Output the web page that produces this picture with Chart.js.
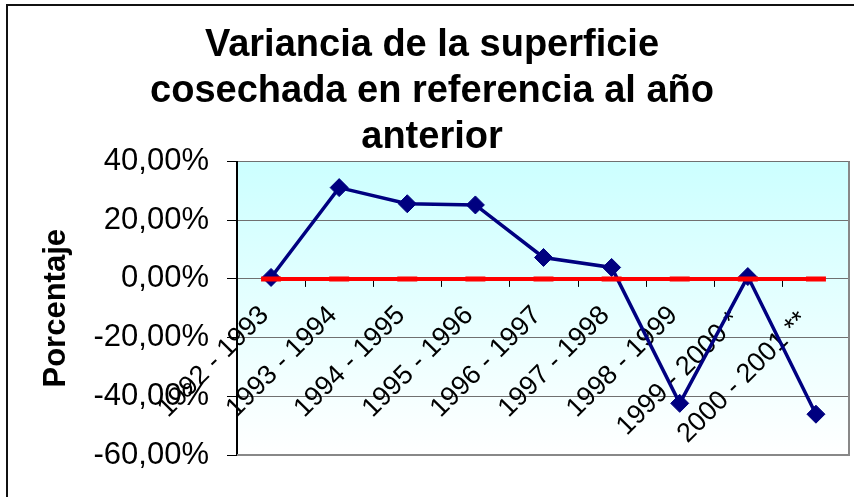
<!DOCTYPE html>
<html>
<head>
<meta charset="utf-8">
<script src="https://cdn.jsdelivr.net/npm/chart.js@4.4.1/dist/chart.umd.min.js"></script>
<style>
  html, body { margin: 0; padding: 0; background: #fff; overflow: hidden; }
  #wrap { position: relative; width: 854px; height: 497px; }
  #frame { position: absolute; left: 6px; top: 4px; width: 900px; height: 600px; border: 2px solid #111; box-sizing: border-box; }
  #c { position: absolute; left: 0; top: 0; }
</style>
</head>
<body>
<div id="wrap">
  <div id="frame"></div>
  <canvas id="c" width="854" height="497"></canvas>
</div>
<script>
// ---- data ----
const titleLines = ["Variancia de la superficie", "cosechada en referencia al año", "anterior"];
const yAxisTitle = "Porcentaje";
const categories = ["1992 - 1993", "1993 - 1994", "1994 - 1995", "1995 - 1996", "1996 - 1997",
                    "1997 - 1998", "1998 - 1999", "1999 - 2000 * ", "2000 - 2001 ** "];
const variance  = [0.5, 31.1, 25.6, 25.2, 7.3, 3.9, -42.4, 0.8, -46.1];
const reference = [0, 0, 0, 0, 0, 0, 0, 0, 0];
const yMin = -60, yMax = 40, yStep = 20;

const FONT = "'Liberation Sans', Arial, sans-serif";

const fmtPct = v => v.toFixed(2).replace('.', ',') + '%';

const plotDecor = {
  id: 'plotDecor',
  beforeDraw(chart) {
    const {ctx, chartArea: a} = chart;
    const g = ctx.createLinearGradient(0, a.top, 0, a.bottom);
    g.addColorStop(0, '#CCFFFF');
    g.addColorStop(1, '#FFFFFF');
    ctx.save();
    ctx.fillStyle = g;
    ctx.fillRect(a.left, a.top, a.right - a.left, a.bottom - a.top);
    ctx.restore();
  },
  beforeDatasetsDraw(chart) {
    const {ctx, scales} = chart;
    const xs = scales.x, ys = scales.y;
    const y0 = ys.getPixelForValue(0);
    ctx.save();
    // category tick marks on the zero line
    ctx.strokeStyle = '#000';
    ctx.lineWidth = 1;
    for (let i = 0; i < categories.length - 1; i++) {
      const bx = Math.round((xs.getPixelForValue(i) + xs.getPixelForValue(i + 1)) / 2) + 0.5;
      ctx.beginPath();
      ctx.moveTo(bx, y0);
      ctx.lineTo(bx, y0 + 8);
      ctx.stroke();
    }
    // rotated category labels
    ctx.fillStyle = '#000';
    ctx.font = '27px ' + FONT;
    ctx.textAlign = 'right';
    ctx.textBaseline = 'middle';
    categories.forEach((lab, i) => {
      const x = xs.getPixelForValue(i);
      ctx.save();
      ctx.translate(x, y0 + 40);
      ctx.rotate(-Math.PI / 4);
      ctx.fillText(lab, 1, -10);
      ctx.restore();
    });
    ctx.restore();
  },
  afterDraw(chart) {
    const {ctx, chartArea: a} = chart;
    ctx.save();
    ctx.strokeStyle = '#888';
    ctx.lineWidth = 2;
    ctx.beginPath();
    ctx.moveTo(a.right - 1, a.top);
    ctx.lineTo(a.right - 1, a.bottom);
    ctx.lineTo(a.left, a.bottom);
    ctx.stroke();
    ctx.restore();
  }
};

new Chart(document.getElementById('c'), {
  type: 'line',
  data: {
    labels: categories,
    datasets: [
      {
        label: 'Variancia',
        data: variance,
        borderColor: '#000080',
        backgroundColor: '#000080',
        borderWidth: 3.5,
        pointStyle: 'rectRot',
        pointRadius: 9,
        pointBorderWidth: 1,
        pointBackgroundColor: '#000080',
        pointBorderColor: '#000080',
        tension: 0,
        order: 2
      },
      {
        label: 'Referencia',
        data: reference,
        borderColor: '#FF0000',
        backgroundColor: '#FF0000',
        borderWidth: 4,
        pointStyle: 'line',
        pointRadius: 10,
        pointBorderWidth: 5,
        pointBorderColor: '#FF0000',
        tension: 0,
        order: 1
      }
    ]
  },
  options: {
    responsive: false,
    animation: false,
    devicePixelRatio: 1,
    layout: { autoPadding: false, padding: { left: 14, right: 4, top: 0, bottom: 42 } },
    plugins: {
      legend: { display: false },
      tooltip: { enabled: false },
      title: {
        display: true,
        text: titleLines,
        color: '#000',
        font: { family: FONT, size: 38, weight: 'bold', lineHeight: 46 / 38 },
        padding: { top: 22.8, bottom: 0.7 }
      }
    },
    scales: {
      x: {
        type: 'category',
        offset: true,
        display: false
      },
      y: {
        min: yMin,
        max: yMax,
        afterFit(s) { s.width = 223; },
        ticks: {
          stepSize: yStep,
          color: '#000',
          padding: 18,
          font: { family: FONT, size: 31 },
          callback: v => fmtPct(v)
        },
        grid: {
          color: '#707070',
          lineWidth: 1,
          tickLength: 10,
          tickColor: '#000'
        },
        border: { display: true, color: '#000', width: 2 },
        title: {
          display: true,
          text: yAxisTitle,
          color: '#000',
          font: { family: FONT, size: 31, weight: 'bold', lineHeight: 1.2 },
          padding: { top: 24, bottom: 0 }
        }
      }
    }
  },
  plugins: [plotDecor]
});
</script>
</body>
</html>
